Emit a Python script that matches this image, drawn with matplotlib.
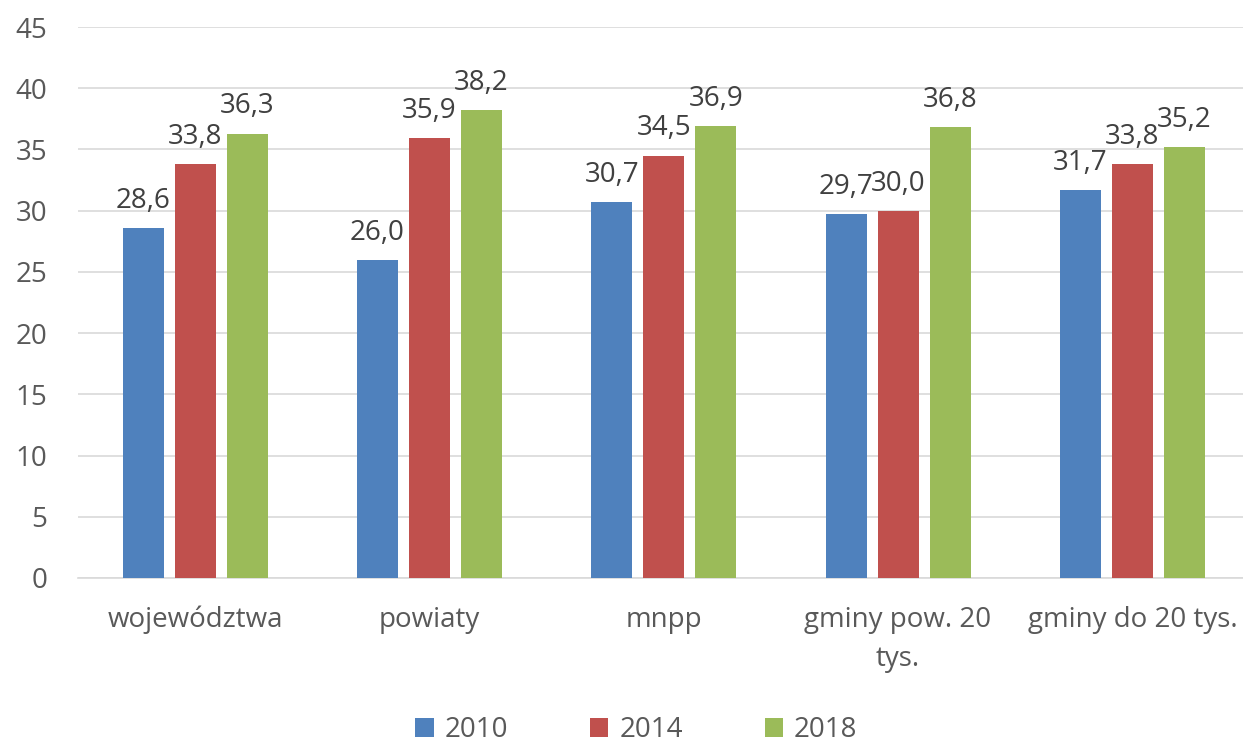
import numpy as np
import matplotlib.pyplot as plt

plt.rcParams['font.family'] = ['Open Sans', 'DejaVu Sans']

categories = ["województwa", "powiaty", "mnpp", "gminy pow. 20\ntys.", "gminy do 20 tys."]
years = ["2010", "2014", "2018"]
v2010 = [28.6, 26.0, 30.7, 29.7, 31.7]
v2014 = [33.8, 35.9, 34.5, 30.0, 33.8]
v2018 = [36.3, 38.2, 36.9, 36.8, 35.2]
colors = ["#4F81BD", "#C0504D", "#9BBB59"]
txt = "#595959"
fs = 20

fig = plt.figure(figsize=(12.43, 7.42), dpi=100)
ax = fig.add_axes([78 / 1243, 164 / 742, 1171.5 / 1243, 551 / 742])

x = np.arange(len(categories))
w = 0.175
step = 0.222
for i, (vals, yr) in enumerate(zip([v2010, v2014, v2018], years)):
    bars = ax.bar(x + (i - 1) * step, vals, w, color=colors[i], label=yr, zorder=3)
    for b, v in zip(bars, vals):
        ax.annotate(f"{v:.1f}".replace(".", ","), (b.get_x() + b.get_width() / 2, v),
                    xytext=(0, 14.5), textcoords="offset points",
                    ha="center", va="baseline", fontsize=fs, color="#404040")

ax.set_xlim(-0.5, len(categories) - 0.5)
ax.set_ylim(0, 45)
ax.set_yticks(range(0, 46, 5))
ax.grid(axis="y", color="#D9D9D9", linewidth=1.2, zorder=0)
for s in ["top", "right", "left"]:
    ax.spines[s].set_visible(False)
ax.spines["bottom"].set_color("#D9D9D9")
ax.spines["bottom"].set_linewidth(1.2)
ax.tick_params(axis="both", length=0, labelsize=fs, colors=txt)
ax.tick_params(axis="x", pad=20)
ax.tick_params(axis="y", pad=22)
ax.set_xticks(x)
ax.set_xticklabels(categories, linespacing=1.55)

fig.legend(*ax.get_legend_handles_labels(), loc="center", bbox_to_anchor=(0.512, 12 / 742),
           ncol=3, frameon=False, fontsize=fs, handlelength=0.65, handleheight=0.65,
           columnspacing=2.95, handletextpad=0.4, labelcolor=txt)

fig.savefig("out.png", dpi=100)
